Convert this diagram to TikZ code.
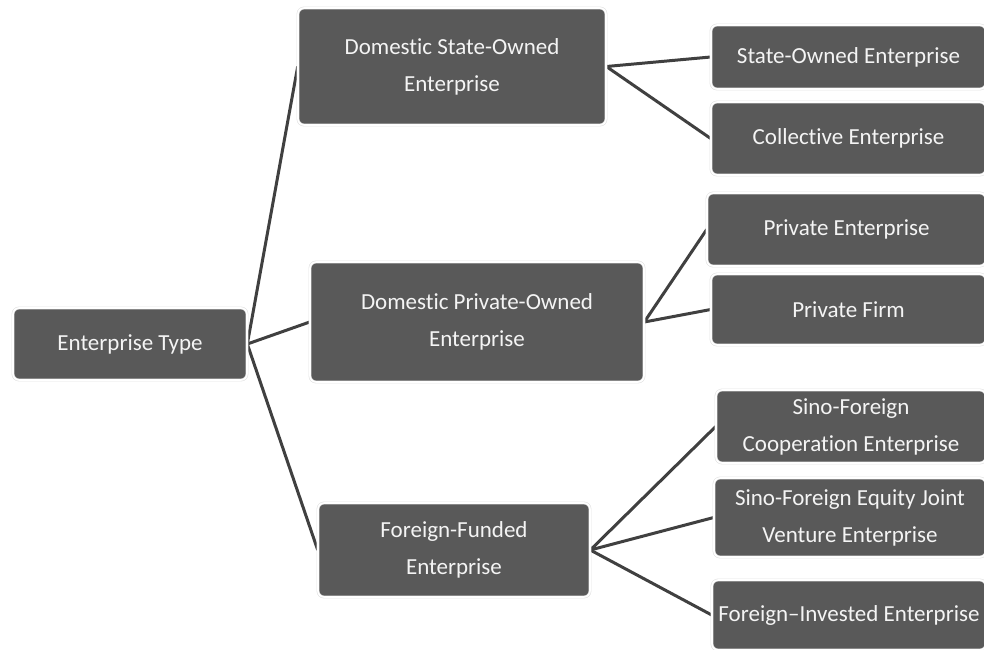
\documentclass[tikz,border=0pt]{standalone}
\usepackage{fontspec}
\setmainfont[Ligatures={NoCommon}]{Carlito}
\usetikzlibrary{backgrounds}
\definecolor{boxgray}{HTML}{595959}
\definecolor{linegray}{HTML}{404040}
\definecolor{rimgray}{HTML}{E2E2E2}
\definecolor{textwhite}{HTML}{F4F4F4}
\tikzset{
  entbox/.style={fill=boxgray, text=textwhite, rounded corners=6pt, draw=rimgray, double=white,
    double distance=1.6pt, line width=0.6pt, inner sep=0pt, align=center,
    font=\fontsize{23}{37}\selectfont},
  link/.style={draw=linegray, line width=3pt}
}
\begin{document}
\begin{tikzpicture}[x=1pt,y=-1pt]
\useasboundingbox (0,0) rectangle (984,649);
\node[entbox, minimum width=234pt, minimum height=72pt] (et) at (130,344) {Enterprise Type};
\node[entbox, minimum width=308pt, minimum height=117pt] (ds) at (452,66.5) {Domestic State-Owned\\Enterprise};
\node[entbox, minimum width=334pt, minimum height=120pt] (dp) at (477,322) {Domestic Private-Owned\\Enterprise};
\node[entbox, minimum width=272pt, minimum height=94pt] (ff) at (454,550) {Foreign-Funded\\Enterprise};
\node[entbox, minimum width=275pt, minimum height=64pt] (so) at (848.5,57) {State-Owned Enterprise};
\node[entbox, minimum width=275pt, minimum height=73pt] (ce) at (848.5,138.5) {Collective Enterprise};
\node[entbox, minimum width=279pt, minimum height=73pt] (pe) at (846.5,229.5) {Private Enterprise};
\node[entbox, minimum width=275pt, minimum height=71pt] (pf) at (848.5,309.5) {Private Firm};
\node[entbox, minimum width=270pt, minimum height=73pt] (sc) at (851,426.5) {Sino-Foreign\\Cooperation Enterprise};
\node[entbox, minimum width=272pt, minimum height=79pt] (sj) at (850,517.5) {Sino-Foreign Equity Joint\\Venture Enterprise};
\node[entbox, minimum width=274pt, minimum height=70pt] (fi) at (849,615) {Foreign--Invested Enterprise};
\begin{scope}[on background layer]
\draw[link] (et.east) -- (ds.west);
\draw[link] (et.east) -- (dp.west);
\draw[link] (et.east) -- (ff.west);
\draw[link] (ds.east) -- (so.west);
\draw[link] (ds.east) -- (ce.west);
\draw[link] (dp.east) -- (pe.west);
\draw[link] (dp.east) -- (pf.west);
\draw[link] (ff.east) -- (sc.west);
\draw[link] (ff.east) -- (sj.west);
\draw[link] (ff.east) -- (fi.west);
\end{scope}
\end{tikzpicture}
\end{document}
